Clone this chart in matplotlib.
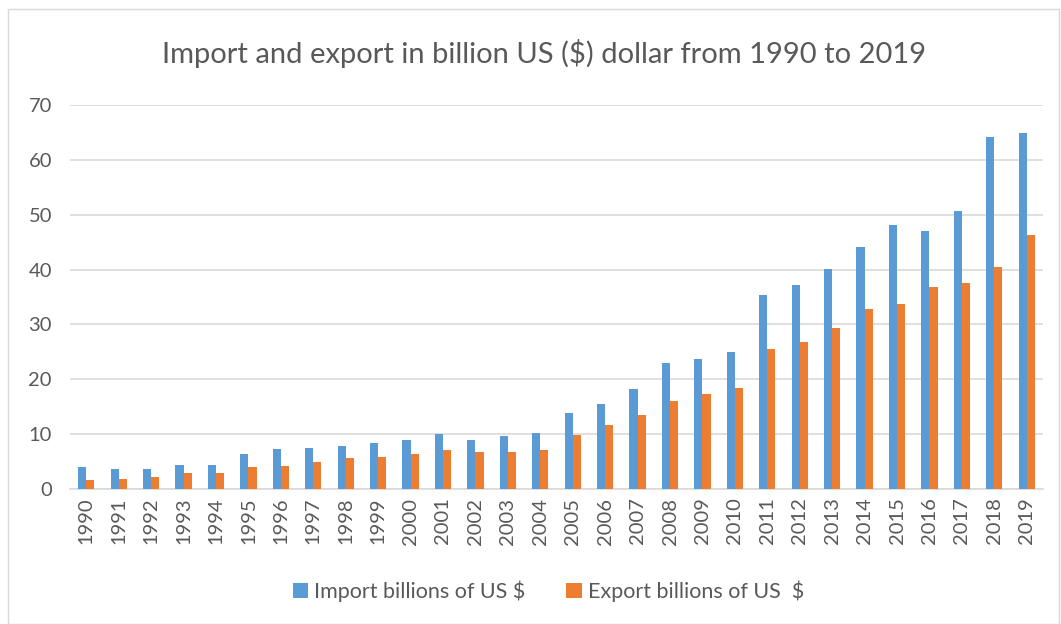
import matplotlib.pyplot as plt
import numpy as np
from matplotlib.patches import Rectangle

plt.rcParams['font.family'] = ['Lato', 'DejaVu Sans']

# data
years = list(range(1990, 2020))
imports = [4.0, 3.6, 3.7, 4.5, 4.5, 6.5, 7.4, 7.5, 7.9, 8.4,
           9.0, 10.0, 9.0, 9.7, 10.2, 13.9, 15.6, 18.3, 22.9, 23.7,
           25.0, 35.3, 37.2, 40.1, 44.1, 48.2, 47.1, 50.6, 64.2, 64.8]
exports = [1.7, 1.9, 2.25, 2.9, 2.9, 4.0, 4.3, 4.9, 5.7, 5.9,
           6.5, 7.1, 6.7, 6.75, 7.2, 9.9, 11.7, 13.5, 16.1, 17.3,
           18.4, 25.6, 26.8, 29.3, 32.8, 33.8, 36.8, 37.5, 40.5, 46.3]

text_col = '#595959'
blue = '#5B9BD5'
orange = '#ED7D31'

fig = plt.figure(figsize=(10.61, 6.24), dpi=100)
ax = fig.add_axes([0.066, 0.216, 0.917, 0.616])

x = np.arange(len(years))
w = 0.25
ax.bar(x - w / 2, imports, w, color=blue, label='Import billions of US $', zorder=3)
ax.bar(x + w / 2, exports, w, color=orange, label='Export billions of US  $', zorder=3)

ax.set_xlim(-0.5, len(years) - 0.5)
ax.set_ylim(0, 70)
ax.set_yticks(range(0, 71, 10))
ax.yaxis.grid(True, color='#D9D9D9', linewidth=1.2, zorder=0)
ax.set_xticks(x)
ax.set_xticklabels([str(y) for y in years], rotation=90)
ax.tick_params(axis='both', length=0, labelsize=14.5, colors=text_col)
ax.tick_params(axis='y', pad=13)
ax.tick_params(axis='x', pad=6)
for s in ['top', 'right', 'left']:
    ax.spines[s].set_visible(False)
ax.spines['bottom'].set_color('#D9D9D9')
ax.spines['bottom'].set_linewidth(1.2)

fig.text(0.513, 0.915, 'Import and export in billion US ($) dollar from 1990 to 2019',
         ha='center', va='center', fontsize=21, color=text_col)

fig.legend(loc='center', bbox_to_anchor=(0.517, 0.052), ncol=2, frameon=False,
           fontsize=15.5, labelcolor=text_col, handlelength=0.7, handleheight=0.7,
           handletextpad=0.3, columnspacing=1.9)

fig.patches.append(Rectangle((0.008, 0.0), 0.99, 0.985, transform=fig.transFigure,
                             fill=False, edgecolor='#D9D9D9', linewidth=1))

fig.savefig('out.png', dpi=100)
